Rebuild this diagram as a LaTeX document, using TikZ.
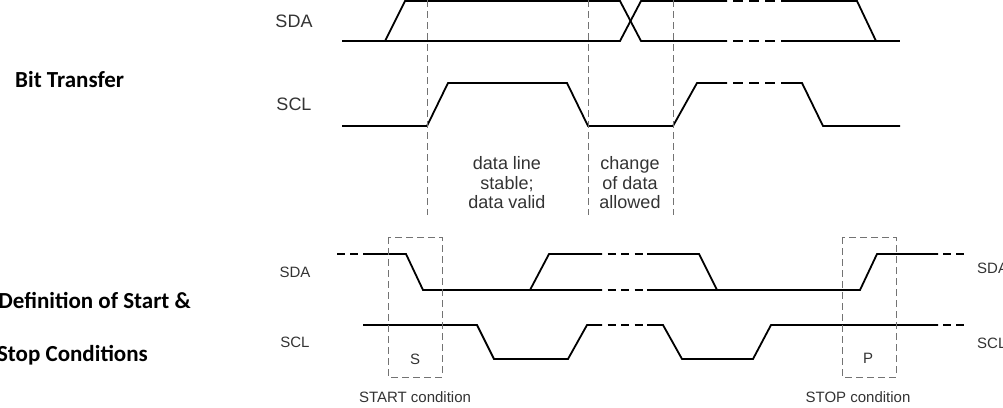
\documentclass[tikz,border=0pt]{standalone}
\usepackage{fontspec}
\setmainfont{Liberation Sans}
\newfontfamily\calfont{Carlito}
\definecolor{txtgray}{HTML}{333333}
\tikzset{
  wave/.style={line width=1.8pt},
  guide/.style={black!55, line width=0.9pt, dash pattern=on 7pt off 4pt},
  gapA/.style={line width=1.8pt, dash pattern=on 10pt off 6pt, dash phase=10pt},
  gapB/.style={line width=1.8pt, dash pattern=on 8pt off 5.5pt, dash phase=8pt},
  enddash/.style={line width=1.8pt, dash pattern=on 8pt off 5pt, dash phase=8pt},
  lbl/.style={text=txtgray, inner sep=0pt, font=\fontsize{18}{19.5}\selectfont},
  small/.style={text=txtgray, inner sep=0pt, font=\fontsize{15}{17}\selectfont},
  heading/.style={inner sep=0pt, font=\calfont\bfseries\fontsize{23}{25}\selectfont},
}
\begin{document}
\begin{tikzpicture}[x=1pt, y=-1pt]
  \useasboundingbox (0,0) rectangle (1003,407);

  % left headings
  \node [heading, anchor=west] (bittitle) at (15,80) {Bit Transfer};
  \node [heading, anchor=east] (starttitle) at (191,300) {Definition of Start \&};
  \node [heading, anchor=east] (stoptitle) at (148,355) {Stop Conditions};

  % bit transfer: SDA
  \node [lbl] (sdatop) at (294,21) {SDA};
  \draw [wave] (342,41) -- (385,41) -- (405,1) -- (620,1) -- (641,41) -- (727,41);
  \draw [wave] (385,41) -- (620,41) -- (641,1) -- (727,1);
  \draw [gapA] (727,1) -- (782,1);
  \draw [gapA] (727,41) -- (782,41);
  \draw [wave] (782,1) -- (857,1) -- (876,41);
  \draw [line width=2.6pt] (782,41) -- (900,41);

  % bit transfer: SCL
  \node [lbl] (scltop) at (294,104) {SCL};
  \draw [wave] (342,126) -- (427,126) -- (448,83) -- (567,83) -- (588,126)
        -- (673,126) -- (697,83) -- (727,83);
  \draw [gapA] (727,83) -- (782,83);
  \draw [wave] (782,83) -- (802,83) -- (823,126) -- (900,126);

  % guides
  \draw [guide] (427,0) -- (427,215);
  \draw [guide] (588,0) -- (588,215);
  \draw [guide] (673,0) -- (673,215);
  \node [lbl, align=center] (stable) at (507,183) {data line\\stable;\\data valid};
  \node [lbl, align=center] (change) at (630,183) {change\\of data\\allowed};

  % start / stop: SDA
  \node [small] (sdaleft) at (295,272) {SDA};
  \node [small, anchor=west] (sdaright) at (977,268) {SDA};
  \draw [line width=1.8pt, dash pattern=on 8pt off 5pt] (337,254) -- (363,254);
  \draw [wave] (363,254) -- (406,254) -- (423,290) -- (602,290);
  \draw [wave] (530,290) -- (549,254) -- (602,254);
  \draw [gapB] (602,254) -- (647,254);
  \draw [gapB] (602,290) -- (647,290);
  \draw [wave] (647,254) -- (699,254) -- (717,290);
  \draw [wave] (647,290) -- (860,290) -- (877,254) -- (938,254);
  \draw [enddash] (938,254) -- (966,254);

  % start / stop: SCL
  \node [small] (sclleft) at (295,342) {SCL};
  \node [small, anchor=west] (sclright) at (977,343) {SCL};
  \draw [wave] (363,325) -- (477,325) -- (494,359) -- (568,359) -- (587,325) -- (602,325);
  \draw [gapB] (602,325) -- (647,325);
  \draw [wave] (647,325) -- (663,325) -- (682,359) -- (753,359) -- (771,325) -- (938,325);
  \draw [enddash] (938,325) -- (966,325);

  % condition boxes
  \draw [guide] (388,237) rectangle (442,377);
  \node [small] (slabel) at (415,359) {S};
  \node [small] (startcond) at (415,397) {START condition};
  \draw [guide] (842,237) rectangle (896,377);
  \node [small] (plabel) at (868,358) {P};
  \node [small] (stopcond) at (858,397) {STOP condition};
\end{tikzpicture}
\end{document}
